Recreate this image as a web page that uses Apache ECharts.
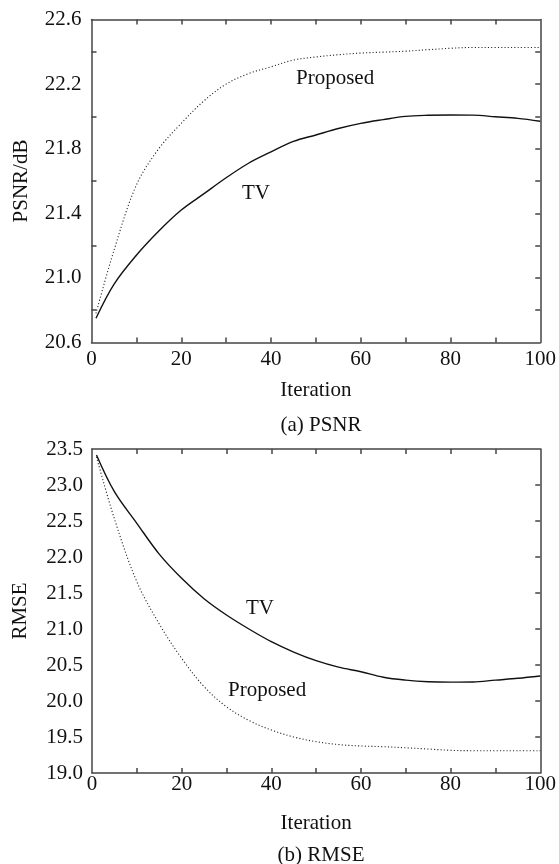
<!DOCTYPE html>
<html>
<head>
<meta charset="utf-8">
<script src="https://cdn.jsdelivr.net/npm/echarts@6/dist/echarts.min.js"></script>
<style>
html,body{margin:0;padding:0;background:#fff;}
#c{width:559px;height:864px;}
</style>
</head>
<body>
<div id="c"></div>
<script>
// ---- data ----
const iterations = [1, 5, 10, 15, 20, 25, 30, 35, 40, 45, 50, 55, 60, 65, 70, 75, 80, 85, 90, 95, 100];
const psnrTV = [20.75, 20.96, 21.14, 21.29, 21.42, 21.52, 21.62, 21.71, 21.78, 21.845, 21.885, 21.925, 21.957, 21.98, 22.0, 22.007, 22.009, 22.008, 21.998, 21.988, 21.97];
const psnrProposed = [20.78, 21.17, 21.575, 21.80, 21.957, 22.095, 22.2, 22.265, 22.307, 22.349, 22.368, 22.382, 22.392, 22.398, 22.404, 22.413, 22.422, 22.427, 22.427, 22.427, 22.427];
const rmseTV = [23.417, 22.907, 22.468, 22.04, 21.704, 21.42, 21.194, 21.0, 20.824, 20.68, 20.56, 20.47, 20.407, 20.33, 20.29, 20.268, 20.262, 20.264, 20.29, 20.315, 20.347];
const rmseProposed = [23.39, 22.53, 21.657, 21.07, 20.593, 20.2, 19.92, 19.73, 19.597, 19.50, 19.435, 19.395, 19.375, 19.365, 19.35, 19.333, 19.315, 19.31, 19.31, 19.31, 19.31];

const iterLabels = [0, 20, 40, 60, 80, 100];
const iterTicks = [10, 20, 30, 40, 50, 60, 70, 80, 90];
const psnrLabels = [20.6, 21.0, 21.4, 21.8, 22.2, 22.6];
const psnrLeftTicks = [20.8, 21.2, 21.6, 22.0, 22.4];
const psnrRightTicks = [20.8, 21.0, 21.2, 21.4, 21.6, 21.8, 22.0, 22.2, 22.4];
const rmseLabels = [19.0, 19.5, 20.0, 20.5, 21.0, 21.5, 22.0, 22.5, 23.0, 23.5];
const rmseRightTicks = [19.5, 20.0, 20.5, 21.0, 21.5, 22.0, 22.5, 23.0];

const zip = (xs, ys) => xs.map((x, i) => [x, ys[i]]);

const FONT = '"Liberation Serif", "Times New Roman", serif';
const TXT = '#111';
const AXC = '#444';
const axisLine = { show: true, onZero: false, lineStyle: { color: AXC, width: 1.5 } };

function xAxes(gridIndex, labelMargin, nameGap) {
  return [
    {
      type: 'value', gridIndex, min: 0, max: 100, position: 'bottom',
      axisLine, splitLine: { show: false },
      axisTick: { show: true, inside: true, length: 5, customValues: iterTicks, lineStyle: { color: AXC, width: 1.5 } },
      axisLabel: { customValues: iterLabels, margin: labelMargin, fontFamily: FONT, fontSize: 21, color: TXT },
      name: 'Iteration', nameLocation: 'middle', nameGap,
      nameTextStyle: { fontFamily: FONT, fontSize: 21, color: TXT }
    },
    {
      type: 'value', gridIndex, min: 0, max: 100, position: 'top',
      axisLine, splitLine: { show: false },
      axisTick: { show: true, inside: true, length: 5, customValues: iterTicks, lineStyle: { color: AXC, width: 1.5 } },
      axisLabel: { show: false }
    }
  ];
}

const chart = echarts.init(document.getElementById('c'), null, { renderer: 'canvas' });

const lineSeries = (xi, yi, vals, dotted) => ({
  type: 'line', xAxisIndex: xi, yAxisIndex: yi, data: zip(iterations, vals),
  smooth: 0.35, showSymbol: false,
  lineStyle: dotted ? { color: '#222', width: 1.1, type: [1.1, 2.2] } : { color: '#111', width: 1.4, type: 'solid' }
});

const option = {
  animation: false,
  backgroundColor: '#fff',
  title: [
    { text: '(a) PSNR', left: 316, top: 410, textAlign: 'center',
      textStyle: { fontFamily: FONT, fontSize: 21, fontWeight: 'normal', color: TXT } },
    { text: '(b) RMSE', left: 316, top: 840, textAlign: 'center',
      textStyle: { fontFamily: FONT, fontSize: 21, fontWeight: 'normal', color: TXT } }
  ],
  grid: [
    { left: 91.5, right: 15, top: 19.5, height: 323 },
    { left: 92, right: 15, top: 449, height: 324 }
  ],
  xAxis: [].concat(xAxes(0, 6, 37), xAxes(1, 1, 40)),
  yAxis: [
    {
      type: 'value', gridIndex: 0, min: 20.6, max: 22.6, position: 'left',
      axisLine, splitLine: { show: false },
      axisTick: { show: true, inside: true, length: 5, customValues: psnrLeftTicks, lineStyle: { color: AXC, width: 1.5 } },
      axisLabel: { customValues: psnrLabels, margin: 10, fontFamily: FONT, fontSize: 21, color: TXT,
        formatter: v => Number(v).toFixed(1) },
      name: 'PSNR/dB', nameLocation: 'middle', nameGap: 60,
      nameTextStyle: { fontFamily: FONT, fontSize: 21, color: TXT }
    },
    {
      type: 'value', gridIndex: 0, min: 20.6, max: 22.6, position: 'right',
      axisLine, splitLine: { show: false },
      axisTick: { show: true, inside: true, length: 5, customValues: psnrRightTicks, lineStyle: { color: AXC, width: 1.5 } },
      axisLabel: { show: false }
    },
    {
      type: 'value', gridIndex: 1, min: 19.0, max: 23.5, position: 'left',
      axisLine, splitLine: { show: false },
      axisTick: { show: false },
      axisLabel: { customValues: rmseLabels, margin: 9, fontFamily: FONT, fontSize: 21, color: TXT,
        formatter: v => Number(v).toFixed(1) },
      name: 'RMSE', nameLocation: 'middle', nameGap: 61,
      nameTextStyle: { fontFamily: FONT, fontSize: 21, color: TXT }
    },
    {
      type: 'value', gridIndex: 1, min: 19.0, max: 23.5, position: 'right',
      axisLine, splitLine: { show: false },
      axisTick: { show: true, inside: true, length: 5, customValues: rmseRightTicks, lineStyle: { color: AXC, width: 1.5 } },
      axisLabel: { show: false }
    }
  ],
  series: [
    Object.assign({ name: 'TV' }, lineSeries(0, 0, psnrTV, false)),
    Object.assign({ name: 'Proposed' }, lineSeries(0, 0, psnrProposed, true)),
    Object.assign({ name: 'TV' }, lineSeries(2, 2, rmseTV, false)),
    Object.assign({ name: 'Proposed' }, lineSeries(2, 2, rmseProposed, true))
  ],
  graphic: [
    { type: 'text', left: 296, top: 68, style: { text: 'Proposed', font: '21px ' + FONT, fill: TXT } },
    { type: 'text', left: 242, top: 183, style: { text: 'TV', font: '21px ' + FONT, fill: TXT } },
    { type: 'text', left: 246, top: 598, style: { text: 'TV', font: '21px ' + FONT, fill: TXT } },
    { type: 'text', left: 228, top: 680, style: { text: 'Proposed', font: '21px ' + FONT, fill: TXT } }
  ]
};
chart.setOption(option);
</script>
</body>
</html>
